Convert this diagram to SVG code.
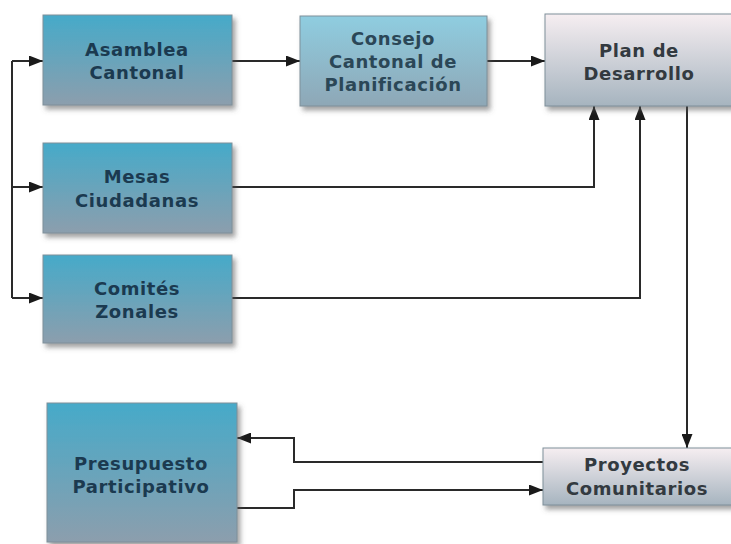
<svg xmlns="http://www.w3.org/2000/svg" width="731" height="544" viewBox="0 0 731 544">
<defs>
<linearGradient id="gBlue" x1="0" y1="0" x2="0" y2="1">
<stop offset="0" stop-color="#46aac9"/>
<stop offset="1" stop-color="#8c9ead"/>
</linearGradient>
<linearGradient id="gLight" x1="0" y1="0" x2="0" y2="1">
<stop offset="0" stop-color="#8fcde0"/>
<stop offset="1" stop-color="#8ea7b6"/>
</linearGradient>
<linearGradient id="gGray" x1="0" y1="0" x2="0" y2="1">
<stop offset="0" stop-color="#f6eef1"/>
<stop offset="1" stop-color="#a6b4bf"/>
</linearGradient>
<filter id="sh" x="-10%" y="-10%" width="125%" height="130%">
<feDropShadow dx="3" dy="4" stdDeviation="2.5" flood-color="#555" flood-opacity="0.55"/>
</filter>
<marker id="ah" viewBox="0 0 14 11" refX="14" refY="5.5" markerWidth="14" markerHeight="11" markerUnits="userSpaceOnUse" orient="auto">
<path d="M0,0 L14,5.5 L0,11 z" fill="#1a1a1a"/>
</marker>
</defs>
<style>
.box{stroke:#7f8f99;stroke-width:1;filter:url(#sh)}
.t{font-family:"DejaVu Sans",Verdana,sans-serif;font-weight:bold;font-size:18px;letter-spacing:0.6px;text-anchor:middle}
.tb{fill:#1b3a50}
.tc{fill:#2b4757}
.tg{fill:#333a40}
.c{fill:none;stroke:#2a2a2a;stroke-width:2}
.ca{fill:none;stroke:#2a2a2a;stroke-width:2;marker-end:url(#ah)}
</style>
<rect width="731" height="544" fill="#ffffff"/>
<g id="connectors">
<path class="c" d="M12,61 V298"/>
<path class="ca" d="M12,61 H43"/>
<path class="ca" d="M12,187 H43"/>
<path class="ca" d="M12,298 H43"/>
<path class="ca" d="M232,61 H300"/>
<path class="ca" d="M487,61 H545"/>
<path class="ca" d="M232,187 H594 V106"/>
<path class="ca" d="M232,298 H640 V106"/>
<path class="ca" d="M687,106 V448"/>
<path class="ca" d="M543,462 H294 V438 H237"/>
<path class="ca" d="M237,508 H294 V490 H543"/>
</g>
<g id="asamblea">
<rect class="box" x="43" y="15" width="189" height="90" fill="url(#gBlue)"/>
<text class="t tb" x="137" y="56">Asamblea</text>
<text class="t tb" x="137" y="79">Cantonal</text>
</g>
<g id="consejo">
<rect class="box" x="300" y="16" width="187" height="90" fill="url(#gLight)"/>
<text class="t tc" x="393" y="45">Consejo</text>
<text class="t tc" x="393" y="68">Cantonal de</text>
<text class="t tc" x="393" y="91">Planificación</text>
</g>
<g id="plan">
<rect class="box" x="545" y="14" width="190" height="92" fill="url(#gGray)"/>
<text class="t tg" x="639" y="57">Plan de</text>
<text class="t tg" x="639" y="80">Desarrollo</text>
</g>
<g id="mesas">
<rect class="box" x="43" y="143" width="189" height="90" fill="url(#gBlue)"/>
<text class="t tb" x="137" y="183">Mesas</text>
<text class="t tb" x="137" y="207">Ciudadanas</text>
</g>
<g id="comites">
<rect class="box" x="43" y="255" width="189" height="88" fill="url(#gBlue)"/>
<text class="t tb" x="137" y="295">Comités</text>
<text class="t tb" x="137" y="318">Zonales</text>
</g>
<g id="presupuesto">
<rect class="box" x="47" y="403" width="190" height="139" fill="url(#gBlue)"/>
<text class="t tb" x="141" y="470">Presupuesto</text>
<text class="t tb" x="141" y="493">Participativo</text>
</g>
<g id="proyectos">
<rect class="box" x="543" y="448" width="192" height="57" fill="url(#gGray)"/>
<text class="t tg" x="637" y="471">Proyectos</text>
<text class="t tg" x="637" y="495">Comunitarios</text>
</g>
</svg>
